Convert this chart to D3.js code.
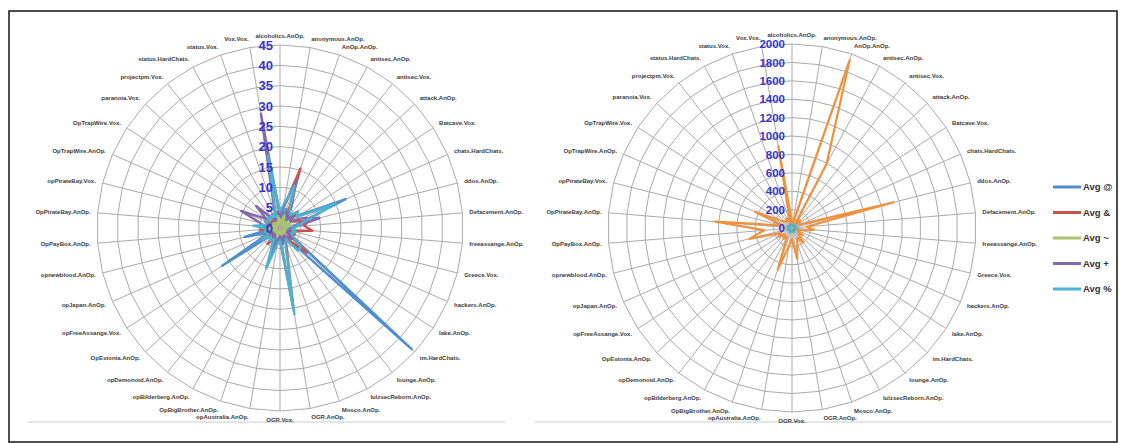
<!DOCTYPE html>
<html><head><meta charset="utf-8">
<script src="https://cdn.jsdelivr.net/npm/d3@7"></script>
<style>
html,body{margin:0;padding:0;background:#fff;}
svg{display:block;font-family:"Liberation Sans",Arial,sans-serif;}
</style></head>
<body>
<svg id="chart" width="1124" height="443"></svg>
<script>
const categories = ["alcoholics.AnOp.","anonymous.AnOp.","AnOp.AnOp.","antisec.AnOp.","antisec.Vox.","attack.AnOp.","Batcave.Vox.","chats.HardChats.","ddos.AnOp.","Defacement.AnOp.","freeassange.AnOp.","Greece.Vox.","hackers.AnOp.","lake.AnOp.","im.HardChats.","lounge.AnOp.","lulzsecReborn.AnOp.","Mosco.AnOp.","OGR.AnOp.","OGR.Vox.","opAustralia.AnOp.","OpBigBrother.AnOp.","opBilderberg.AnOp.","opDemonoid.AnOp.","OpEstonia.AnOp.","opFreeAssange.Vox.","opJapan.AnOp.","opnewblood.AnOp.","OpPayBox.AnOp.","OpPirateBay.AnOp.","opPirateBay.Vox.","OpTrapWire.AnOp.","OpTrapWire.Vox.","paranoia.Vox.","projectpm.Vox.","status.HardChats.","status.Vox.","Vox.Vox."];

const seriesNames = ["Avg @","Avg &","Avg ~","Avg +","Avg %"];
const avgAt      = [2,3,5,3,2,4,6,17.6,5,3,2,3,2,3,44,4,3,2,3,2,3,4,2,3,2,17,3,9,2,4,3,2,3,2,3,2,3,4];
const avgAmp     = [3,5,15.5,4,3,5,3,4,7,6,8,3,4,3,9,4,3,5,19.5,3,4,8,3,5,2,3,4,3,5,3,2,4,3,2,3,2,3,4];
const avgTilde   = [2,1,3,2,1,2,1,3,2,1,2,1,2,1,3,1,2,1,2,1,2,1,2,1,2,1,2,1,3,1,2,1,2,1,2,1,2,3];
const avgPlus    = [3,5,12.5,6,3,4,3,6,10,4,3,2,3,2,4,3,2,3,4,2,3,6,3,2,3,2,3,4,3,4,5,10.4,4,8,3,2,4,28.5];
const avgPct     = [4,6,11,5,4,6,5,15,6,4,3,4,3,4,7,7,3,4,21.5,3,4,10.5,3,4,3,5,3,4,3,6.5,3,4,3,4,3,4,3,18];
const rightMain  = [60,50,1930,790,60,120,80,90,1140,160,240,100,60,140,90,200,120,180,340,120,200,480,110,150,100,180,130,480,300,835,110,440,150,100,90,120,70,900];
const rightSmall = [40,35,45,30,40,35,45,40,30,35,40,45,35,30,40,35,45,40,30,35,40,45,35,30,40,35,45,40,30,35,40,45,35,30,40,35,45,40];

const leftTicks  = [0,5,10,15,20,25,30,35,40,45];
const rightTicks = [0,200,400,600,800,1000,1200,1400,1600,1800,2000];

const colors = ["#4F8FCF","#C9514E","#A9C46A","#8368AE","#4BB3D0"];
const orange = "#F0913F";

const svg = d3.select("#chart");

// frame
svg.append("rect").attr("x",9).attr("y",11).attr("width",1108).attr("height",431)
  .attr("fill","none").attr("stroke","#222").attr("stroke-width",1.6);
svg.append("line").attr("x1",28).attr("x2",505).attr("y1",422).attr("y2",422).attr("stroke","#ccc");
svg.append("line").attr("x1",535).attr("x2",1112).attr("y1",422).attr("y2",422).attr("stroke","#ccc");

const n = categories.length;
const angle = d3.scaleLinear().domain([0,n]).range([0,2*Math.PI]);

function radar(cx, cy, R, maxV, ticks, seriesList, tickFont, tickColor){
  const g = svg.append("g").attr("transform",`translate(${cx},${cy})`);
  const r = d3.scaleLinear().domain([0,maxV]).range([0,R]);
  const idx = d3.range(n);
  const ring = d3.lineRadial().angle(i=>angle(i)).curve(d3.curveLinearClosed);
  // rings
  ticks.slice(1).forEach(t=>{
    g.append("path").attr("d", ring.radius(()=>r(t))(idx))
      .attr("fill","none").attr("stroke","#AAAAAA").attr("stroke-width",1);
  });
  // spokes
  g.selectAll("line.spoke").data(idx).join("line")
    .attr("x1",0).attr("y1",0)
    .attr("x2",i=>r(maxV)*Math.sin(angle(i)))
    .attr("y2",i=>-r(maxV)*Math.cos(angle(i)))
    .attr("stroke","#AAAAAA").attr("stroke-width",1);
  // series
  seriesList.forEach(s=>{
    const line = d3.lineRadial().angle((d,i)=>angle(i)).radius(d=>r(d)).curve(d3.curveLinearClosed);
    g.append("path").attr("d",line(s.values)).attr("fill","none")
      .attr("stroke",s.color).attr("stroke-width",s.width).attr("stroke-linejoin","round");
  });
  // category labels
  g.selectAll("text.cat").data(idx).join("text")
    .attr("x",i=>(R+7)*Math.sin(angle(i)))
    .attr("y",i=>-(R+9)*Math.cos(angle(i)))
    .attr("dy","0.35em")
    .attr("text-anchor",i=>{const s=Math.sin(angle(i)); return s>0.05?"start":(s<-0.05?"end":"middle");})
    .attr("font-size",6).attr("font-weight","bold").attr("fill","#3c3c3c")
    .text(i=>categories[i]);
  // tick labels
  g.selectAll("text.tick").data(ticks).join("text")
    .attr("x",-7).attr("y",t=>-r(t)).attr("dy","0.36em")
    .attr("text-anchor","end").attr("font-size",tickFont).attr("font-weight","bold")
    .attr("fill",tickColor).text(t=>t);
}

radar(280, 228, 183, 45, leftTicks,
  [avgAt,avgAmp,avgTilde,avgPlus,avgPct].map((v,k)=>({values:v,color:colors[k],width:2.4})),
  13, "#3535D5");

radar(792, 228, 184, 2000, rightTicks,
  [{values:rightSmall,color:"#4BB3C6",width:2.4},{values:rightMain,color:orange,width:2.2}],
  11.5, "#3535D5");

// legend
const leg = svg.append("g");
seriesNames.forEach((name,k)=>{
  const y = 187 + k*25.5;
  leg.append("line").attr("x1",1053).attr("x2",1081).attr("y1",y).attr("y2",y)
    .attr("stroke",colors[k]).attr("stroke-width",3);
  leg.append("text").attr("x",1083).attr("y",y).attr("dy","0.35em")
    .attr("font-size",9.5).attr("font-weight","bold").attr("fill","#333").text(name);
});
</script>
</body></html>
